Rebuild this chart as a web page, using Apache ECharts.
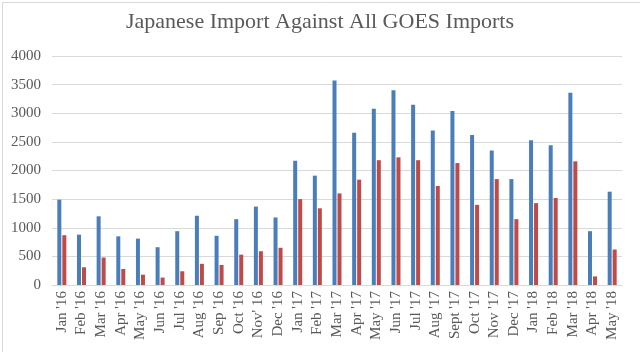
<!DOCTYPE html>
<html>
<head>
<meta charset="utf-8">
<script src="https://cdn.jsdelivr.net/npm/echarts@6/dist/echarts.min.js"></script>
<style>
  html, body { margin: 0; padding: 0; background: #fff; }
  #chart { width: 640px; height: 352px; }
</style>
</head>
<body>
<div id="chart"></div>
<script>
// Meses (eixo X)
const months = [
    "Jan '16", "Feb '16", "Mar '16", "Apr '16", "May '16", "Jun '16", "Jul '16", "Aug '16",
    "Sep '16", "Oct '16", "Nov' 16", "Dec '16", "Jan '17", "Feb '17", "Mar '17", "Apr '17",
    "May '17", "Jun '17", "Jul '17", "Aug '17", "Sept '17", "Oct '17", "Nov '17", "Dec '17",
    "Jan '18", "Feb '18", "Mar '18", "Apr '18", "May '18"
];

// Total de importações GOES (azul)
const allImports = [
    1490, 880, 1200, 850, 810, 660, 940, 1210, 860, 1150, 1370, 1180,
    2170, 1910, 3570, 2660, 3080, 3400, 3150, 2700, 3040, 2620, 2350, 1850,
    2530, 2440, 3360, 940, 1630
];

// Importações do Japão (vermelho)
const japanImports = [
    870, 310, 480, 280, 180, 130, 240, 370, 350, 530, 590, 650,
    1500, 1340, 1600, 1840, 2180, 2230, 2180, 1730, 2130, 1400, 1850, 1150,
    1430, 1520, 2160, 150, 620
];

const chartDom = document.getElementById('chart');
const myChart = echarts.init(chartDom);

const serif = '"Liberation Serif", "DejaVu Serif", serif';

const option = {
    animation: false,
    // Moldura clara em volta do gráfico
    graphic: [{
        type: 'rect',
        left: 0,
        top: 0,
        shape: { x: 0.5, y: 0.5, width: 639, height: 351 },
        style: { fill: 'none', stroke: '#d9d9d9', lineWidth: 1 },
        silent: true
    }],
    title: {
        text: 'Japanese Import Against All GOES Imports',
        left: 'center',
        top: 6,
        textStyle: {
            fontFamily: serif,
            fontSize: 22,
            fontWeight: 'normal',
            color: '#595959'
        }
    },
    grid: {
        left: 52,
        right: 18,
        top: 56,
        bottom: 67
    },
    xAxis: {
        type: 'category',
        data: months,
        axisTick: { show: false },
        axisLine: { lineStyle: { color: '#d9d9d9', width: 1 } },
        axisLabel: {
            interval: 0,
            rotate: 90,
            margin: 6,
            fontFamily: serif,
            fontSize: 15,
            color: '#595959'
        }
    },
    yAxis: {
        type: 'value',
        min: 0,
        max: 4000,
        interval: 500,
        axisLine: { show: false },
        axisTick: { show: false },
        axisLabel: {
            margin: 11,
            fontFamily: serif,
            fontSize: 15,
            color: '#595959',
            formatter: function (v) { return String(v); }
        },
        splitLine: { lineStyle: { color: '#d9d9d9', width: 1 } }
    },
    series: [
        {
            name: 'All GOES Imports',
            type: 'bar',
            data: allImports,
            barWidth: 4,
            barGap: '25%',
            itemStyle: { color: '#4A7EBB' }
        },
        {
            name: 'Japanese Import',
            type: 'bar',
            data: japanImports,
            barWidth: 4,
            itemStyle: { color: '#BE4B48' }
        }
    ]
};

myChart.setOption(option);
</script>
</body>
</html>
